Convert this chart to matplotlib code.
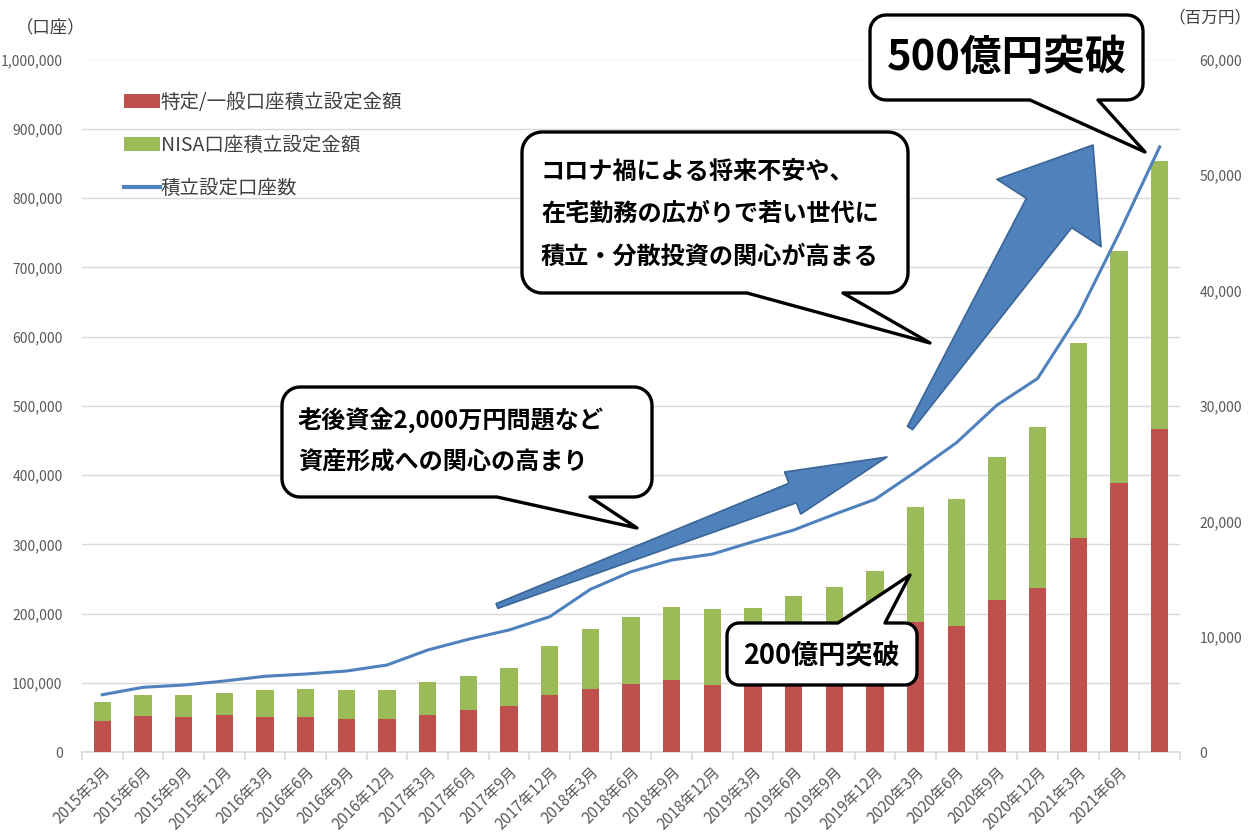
import numpy as np
import matplotlib
matplotlib.use("Agg")
import matplotlib.pyplot as plt
from matplotlib.patches import Patch, Polygon
from matplotlib.lines import Line2D

plt.rcParams['font.family'] = ['Noto Sans CJK JP', 'DejaVu Sans']

# ---------------- data ----------------
periods = ['2015年3月', '2015年6月', '2015年9月', '2015年12月',
           '2016年3月', '2016年6月', '2016年9月', '2016年12月',
           '2017年3月', '2017年6月', '2017年9月', '2017年12月',
           '2018年3月', '2018年6月', '2018年9月', '2018年12月',
           '2019年3月', '2019年6月', '2019年9月', '2019年12月',
           '2020年3月', '2020年6月', '2020年9月', '2020年12月',
           '2021年3月', '2021年6月', '']

# 特定/一般口座積立設定金額 (百万円)
tokutei_amount = [2700, 3150, 3030, 3250, 3030, 3030, 2900, 2900,
                  3250, 3650, 4000, 5000, 5500, 5950, 6250, 5850,
                  5800, 6000, 6200, 6500, 11300, 10950, 13200, 14250,
                  18550, 23350, 28000]
# NISA口座積立設定金額 (百万円)
nisa_amount = [1680, 1790, 1910, 1890, 2340, 2430, 2470, 2470,
               2840, 2960, 3270, 4180, 5180, 5790, 6360, 6530,
               6700, 7560, 8090, 9200, 9920, 10960, 12400, 13950,
               16890, 20090, 23230]
# 積立設定口座数 (口座)
accounts = [83100, 93800, 97100, 102900, 109700, 113000, 117300, 126000,
            147600, 163100, 176500, 195700, 235200, 260600, 277500, 286100,
            303900, 320800, 343500, 365100, 404900, 446700, 501200, 539700,
            631000, 748900, 873900]

legend_labels = ['特定/一般口座積立設定金額', 'NISA口座積立設定金額', '積立設定口座数']
left_ticks = list(range(0, 1000001, 100000))
right_ticks = list(range(0, 60001, 10000))

# ---------------- style ----------------
RED = '#C0504D'
GREEN = '#9BBB59'
BLUE = '#4F81BD'
GRID = '#D9D9D9'
TICK = '#595959'

W, H = 1255, 834
fig = plt.figure(figsize=(W / 100, H / 100), dpi=100)

x0p, x1p, y0p, y1p = 82, 1180, 752.3, 59.5
rect = [x0p / W, 1 - y0p / H, (x1p - x0p) / W, (y0p - y1p) / H]
ax_bar = fig.add_axes(rect)
ax_line = ax_bar.twinx()

x = np.arange(len(periods))
ax_bar.bar(x, tokutei_amount, width=0.43, color=RED, zorder=3)
ax_bar.bar(x, nisa_amount, width=0.43, bottom=tokutei_amount, color=GREEN, zorder=3)
ax_bar.set_ylim(0, right_ticks[-1])
ax_bar.set_xlim(-0.5, len(periods) - 0.5)

# grid lines at the left-axis tick positions (drawn behind the bars)
for v in left_ticks[1:]:
    ax_bar.axhline(v / left_ticks[-1] * right_ticks[-1], color=GRID, lw=1.0, zorder=0)

ax_line.plot(x, accounts, color=BLUE, lw=2.2, zorder=4)
ax_line.set_ylim(0, left_ticks[-1])

# axis ticks / labels
ax_bar.yaxis.tick_right()
ax_bar.set_yticks(right_ticks)
ax_bar.set_yticklabels([f'{v:,}' for v in right_ticks])
ax_line.yaxis.tick_left()
ax_line.set_yticks(left_ticks)
ax_line.set_yticklabels([f'{v:,}' for v in left_ticks])
for a in (ax_bar, ax_line):
    a.tick_params(axis='y', length=0, labelsize=10, labelcolor=TICK, pad=14)
    for s in a.spines.values():
        s.set_visible(False)
ax_bar.spines['bottom'].set_visible(True)
ax_bar.spines['bottom'].set_color(GRID)
ax_bar.spines['bottom'].set_linewidth(1.2)

ax_bar.set_xticks(x)
ax_bar.set_xticklabels(periods, rotation=45, ha='right', rotation_mode='anchor')
ax_bar.set_xticks(np.arange(len(periods) + 1) - 0.5, minor=True)
ax_bar.tick_params(axis='x', which='major', length=0, labelsize=11, labelcolor=TICK, pad=8)
ax_bar.tick_params(axis='x', which='minor', length=6, color=GRID, width=1.2)
ax_line.tick_params(axis='x', length=0)

# ---------------- overlay in pixel coordinates ----------------
ov = fig.add_axes([0, 0, 1, 1], zorder=20)
ov.set_xlim(0, W)
ov.set_ylim(H, 0)
ov.axis('off')
ov.patch.set_visible(False)

ov.text(51, 27, '（口座）', fontsize=12.5, color='#404040', ha='center', va='center')
ov.text(1210, 18, '（百万円）', fontsize=12, color='#404040', ha='center', va='center')

# legend
handles = [Patch(facecolor=RED, edgecolor='none'),
           Patch(facecolor=GREEN, edgecolor='none'),
           Line2D([0], [0], color=BLUE, lw=3)]
leg = fig.legend(handles, legend_labels, loc='upper left',
                 bbox_to_anchor=(124 / W, 1 - 92 / H), frameon=False,
                 fontsize=14, handlelength=1.85, handleheight=0.75,
                 handletextpad=0.05, labelspacing=1.12, borderpad=0,
                 borderaxespad=0)
for t in leg.get_texts():
    t.set_color('#404040')


def arrow_poly(tail, tip, head_len, head_hw, shaft_hw, tail_hw):
    T = np.array(tail, float)
    P = np.array(tip, float)
    u = (P - T) / np.linalg.norm(P - T)
    n = np.array([-u[1], u[0]])
    B = P - head_len * u
    pts = [T + tail_hw * n, B + shaft_hw * n, B + head_hw * n, P,
           B - head_hw * n, B - shaft_hw * n, T - tail_hw * n]
    return np.array(pts)


for spec in [((497, 606), (887, 457), 101, 22.5, 10.5, 2.5),
             ((910, 428), (1093, 145), 81, 62, 27, 3)]:
    ov.add_patch(Polygon(arrow_poly(*spec), closed=True, facecolor=BLUE,
                         edgecolor='#3A6596', lw=1.2, joinstyle='round', zorder=5))


def callout(bx0, by0, bx1, by1, r, edge, ta, tb, tip):
    pts = []

    def arc(cx, cy, a0, a1):
        for a in np.linspace(a0, a1, 10):
            pts.append((cx + r * np.cos(np.radians(a)), cy + r * np.sin(np.radians(a))))
    pts.append((bx0 + r, by0))
    if edge == 'top':
        pts += [(ta, by0), tip, (tb, by0)]
    pts.append((bx1 - r, by0))
    arc(bx1 - r, by0 + r, -90, 0)
    arc(bx1 - r, by1 - r, 0, 90)
    if edge == 'bottom':
        pts += [(tb, by1), tip, (ta, by1)]
    arc(bx0 + r, by1 - r, 90, 180)
    arc(bx0 + r, by0 + r, 180, 270)
    ov.add_patch(Polygon(np.array(pts), closed=True, facecolor='white',
                         edgecolor='black', lw=2.4, joinstyle='round', zorder=8))


callout(870, 15, 1143, 100, 16, 'bottom', 1030, 1098, (1145, 152))
ov.text(1007, 58, '500億円突破', fontsize=30, fontweight='bold', ha='center',
        va='center', zorder=9)

callout(522, 132, 908, 293, 20, 'bottom', 747, 843, (930, 343))
for yy, s in zip([172, 214, 257], ['コロナ禍による将来不安や、', '在宅勤務の広がりで若い世代に',
                                  '積立・分散投資の関心が高まる']):
    ov.text(541, yy, s, fontsize=17.4, fontweight='bold', ha='left', va='center', zorder=9)

callout(282, 387, 652, 497, 18, 'bottom', 497, 590, (637, 528))
for yy, s in zip([421, 463], ['老後資金2,000万円問題など', '資産形成への関心の高まり']):
    ov.text(298, yy, s, fontsize=17.4, fontweight='bold', ha='left', va='center', zorder=9)

callout(727, 623, 917, 685, 12, 'top', 838, 885, (910, 575))
ov.text(821, 655, '200億円突破', fontsize=19.5, fontweight='bold', ha='center',
        va='center', zorder=9)

fig.savefig('out.png', dpi=100)
